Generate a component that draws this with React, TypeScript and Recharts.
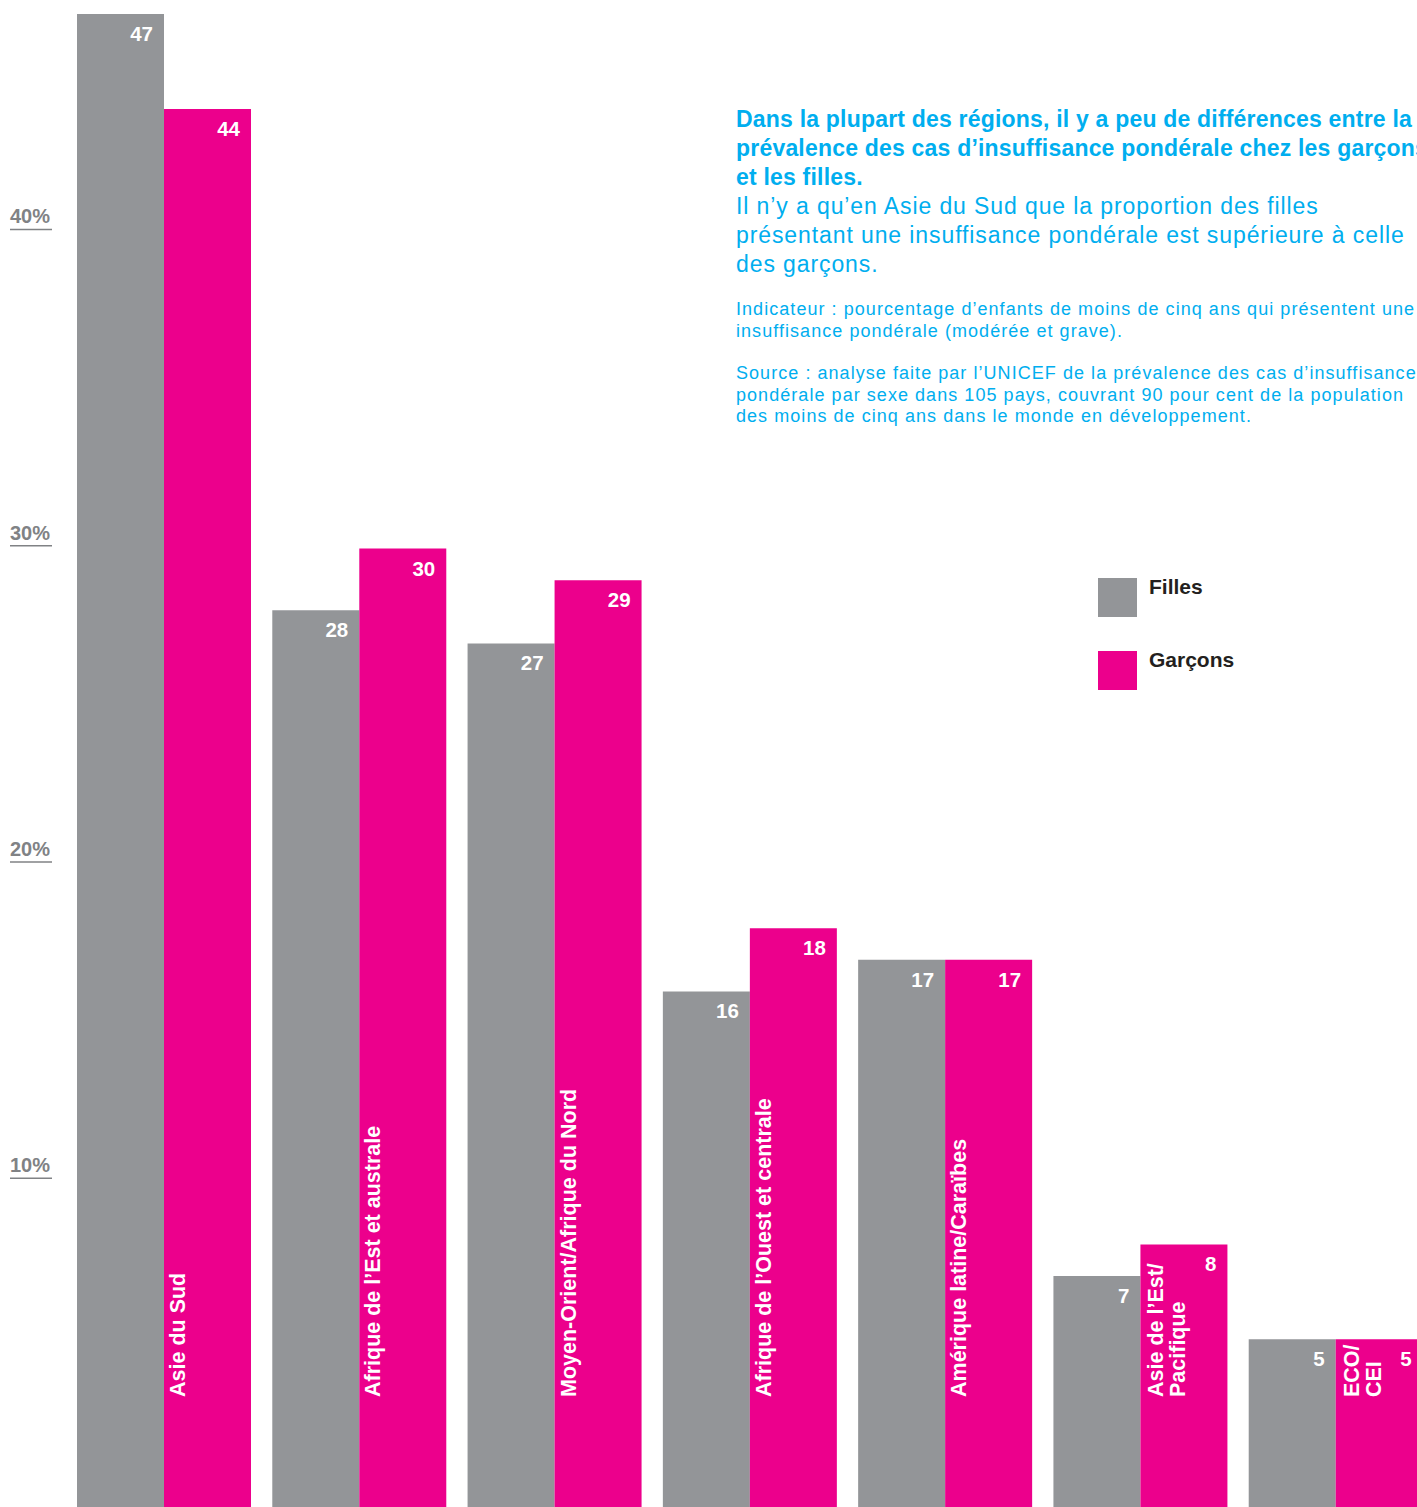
import { BarChart, Bar, XAxis, YAxis, LabelList } from 'recharts'

const REGIONS = [
  'Asie du Sud',
  'Afrique de l’Est et australe',
  'Moyen-Orient/Afrique du Nord',
  'Afrique de l’Ouest et centrale',
  'Amérique latine/Caraïbes',
  'Asie de l’Est/\nPacifique',
  'ECO/\nCEI'
]
// values; labels show them rounded
const FILLES = [47, 28.15, 27.1, 16.1, 17.1, 7.1, 5.1]
const GARCONS = [44, 30.1, 29.1, 18.1, 17.1, 8.1, 5.1]
const Y_TICKS = [10, 20, 30, 40]

const GREY = '#939598'
const MAGENTA = '#EC008C'
const BLUE = '#00AEEF'
const FLOOR = -0.2

const data = REGIONS.map((region, i) => ({
  region,
  filles: FILLES[i],
  garcons: GARCONS[i]
}))

const BAR_FONT = '"Liberation Sans", Arial, sans-serif'
const NARROW = '"Liberation Sans Narrow", "Arial Narrow", "Liberation Sans", sans-serif'

function YTick(props: any) {
  const { y, payload } = props
  return (
    <g>
      <text
        x={10}
        y={y - 12}
        fill="#808285"
        fontFamily={BAR_FONT}
        fontWeight="bold"
        fontSize={20}
      >
        {payload.value}%
      </text>
      <line x1={10} x2={52} y1={y - 6} y2={y - 6} stroke="#808285" strokeWidth={1.5} />
    </g>
  )
}

function valueLabel(values: number[]) {
  return (props: any) => {
    const { x, y, width, index } = props
    return (
      <text
        x={x + width - 11}
        y={y + 27}
        textAnchor="end"
        fill="#fff"
        fontFamily={BAR_FONT}
        fontWeight="bold"
        fontSize={20.5}
      >
        {Math.round(values[index])}
      </text>
    )
  }
}

function RegionLabel(props: any) {
  const { x, y, height, index } = props
  const lines = REGIONS[index].split('\n')
  const startY = y + height - 110
  return (
    <g>
      {lines.map((line, i) => {
        const bx = x + (lines.length > 1 ? 23 + i * 22 : 21)
        return (
          <text
            key={i}
            x={bx}
            y={startY}
            transform={`rotate(-90, ${bx}, ${startY})`}
            fill="#fff"
            fontFamily={BAR_FONT}
            fontWeight="bold"
            fontSize={21.5}
          >
            {line}
          </text>
        )
      })}
    </g>
  )
}

export default function App() {
  return (
    <div
      style={{
        position: 'absolute',
        left: 0,
        top: 0,
        width: 1417,
        height: 1507,
        overflow: 'hidden',
        background: '#fff'
      }}
    >
      <BarChart
        width={1440}
        height={1507}
        data={data}
        margin={{ top: 14, right: 7, bottom: 0, left: 0 }}
        barCategoryGap={11}
        barGap={0}
      >
        <XAxis dataKey="region" hide />
        <YAxis
          width={66}
          domain={[FLOOR, 47]}
          ticks={Y_TICKS}
          axisLine={false}
          tickLine={false}
          tick={<YTick />}
          allowDataOverflow
        />
        <Bar
          dataKey={(d: any) => [FLOOR, d.filles]}
          fill={GREY}
          isAnimationActive={false}
        >
          <LabelList content={valueLabel(FILLES)} />
        </Bar>
        <Bar
          dataKey={(d: any) => [FLOOR, d.garcons]}
          fill={MAGENTA}
          isAnimationActive={false}
        >
          <LabelList content={valueLabel(GARCONS)} />
          <LabelList content={<RegionLabel />} />
        </Bar>
      </BarChart>

      <div
        style={{
          position: 'absolute',
          left: 736,
          top: 105,
          whiteSpace: 'nowrap',
          color: BLUE,
          fontFamily: NARROW
        }}
      >
        <div style={{ fontSize: 23, lineHeight: '29px', fontWeight: 'bold', letterSpacing: 0.2 }}>
          Dans la plupart des régions, il y a peu de différences entre la
          <br />
          prévalence des cas d’insuffisance pondérale chez les garçons
          <br />
          et les filles.
        </div>
        <div style={{ fontSize: 23, lineHeight: '29px', letterSpacing: 0.9 }}>
          Il n’y a qu’en Asie du Sud que la proportion des filles
          <br />
          présentant une insuffisance pondérale est supérieure à celle
          <br />
          des garçons.
        </div>
        <div style={{ fontSize: 18, lineHeight: '21.5px', marginTop: 20, letterSpacing: 1.05 }}>
          Indicateur : pourcentage d’enfants de moins de cinq ans qui présentent une
          <br />
          insuffisance pondérale (modérée et grave).
        </div>
        <div style={{ fontSize: 18, lineHeight: '21.5px', marginTop: 21, letterSpacing: 1.05 }}>
          Source : analyse faite par l’UNICEF de la prévalence des cas d’insuffisance
          <br />
          pondérale par sexe dans 105 pays, couvrant 90 pour cent de la population
          <br />
          des moins de cinq ans dans le monde en développement.
        </div>
      </div>

      {[
        { label: 'Filles', color: GREY, top: 578 },
        { label: 'Garçons', color: MAGENTA, top: 651 }
      ].map((item) => (
        <div key={item.label} style={{ position: 'absolute', left: 1098, top: item.top }}>
          <div style={{ width: 39, height: 39, background: item.color }} />
          <div
            style={{
              position: 'absolute',
              left: 51,
              top: -3,
              fontFamily: BAR_FONT,
              fontWeight: 'bold',
              fontSize: 21,
              lineHeight: '24px',
              color: '#231F20',
              whiteSpace: 'nowrap'
            }}
          >
            {item.label}
          </div>
        </div>
      ))}
    </div>
  )
}
